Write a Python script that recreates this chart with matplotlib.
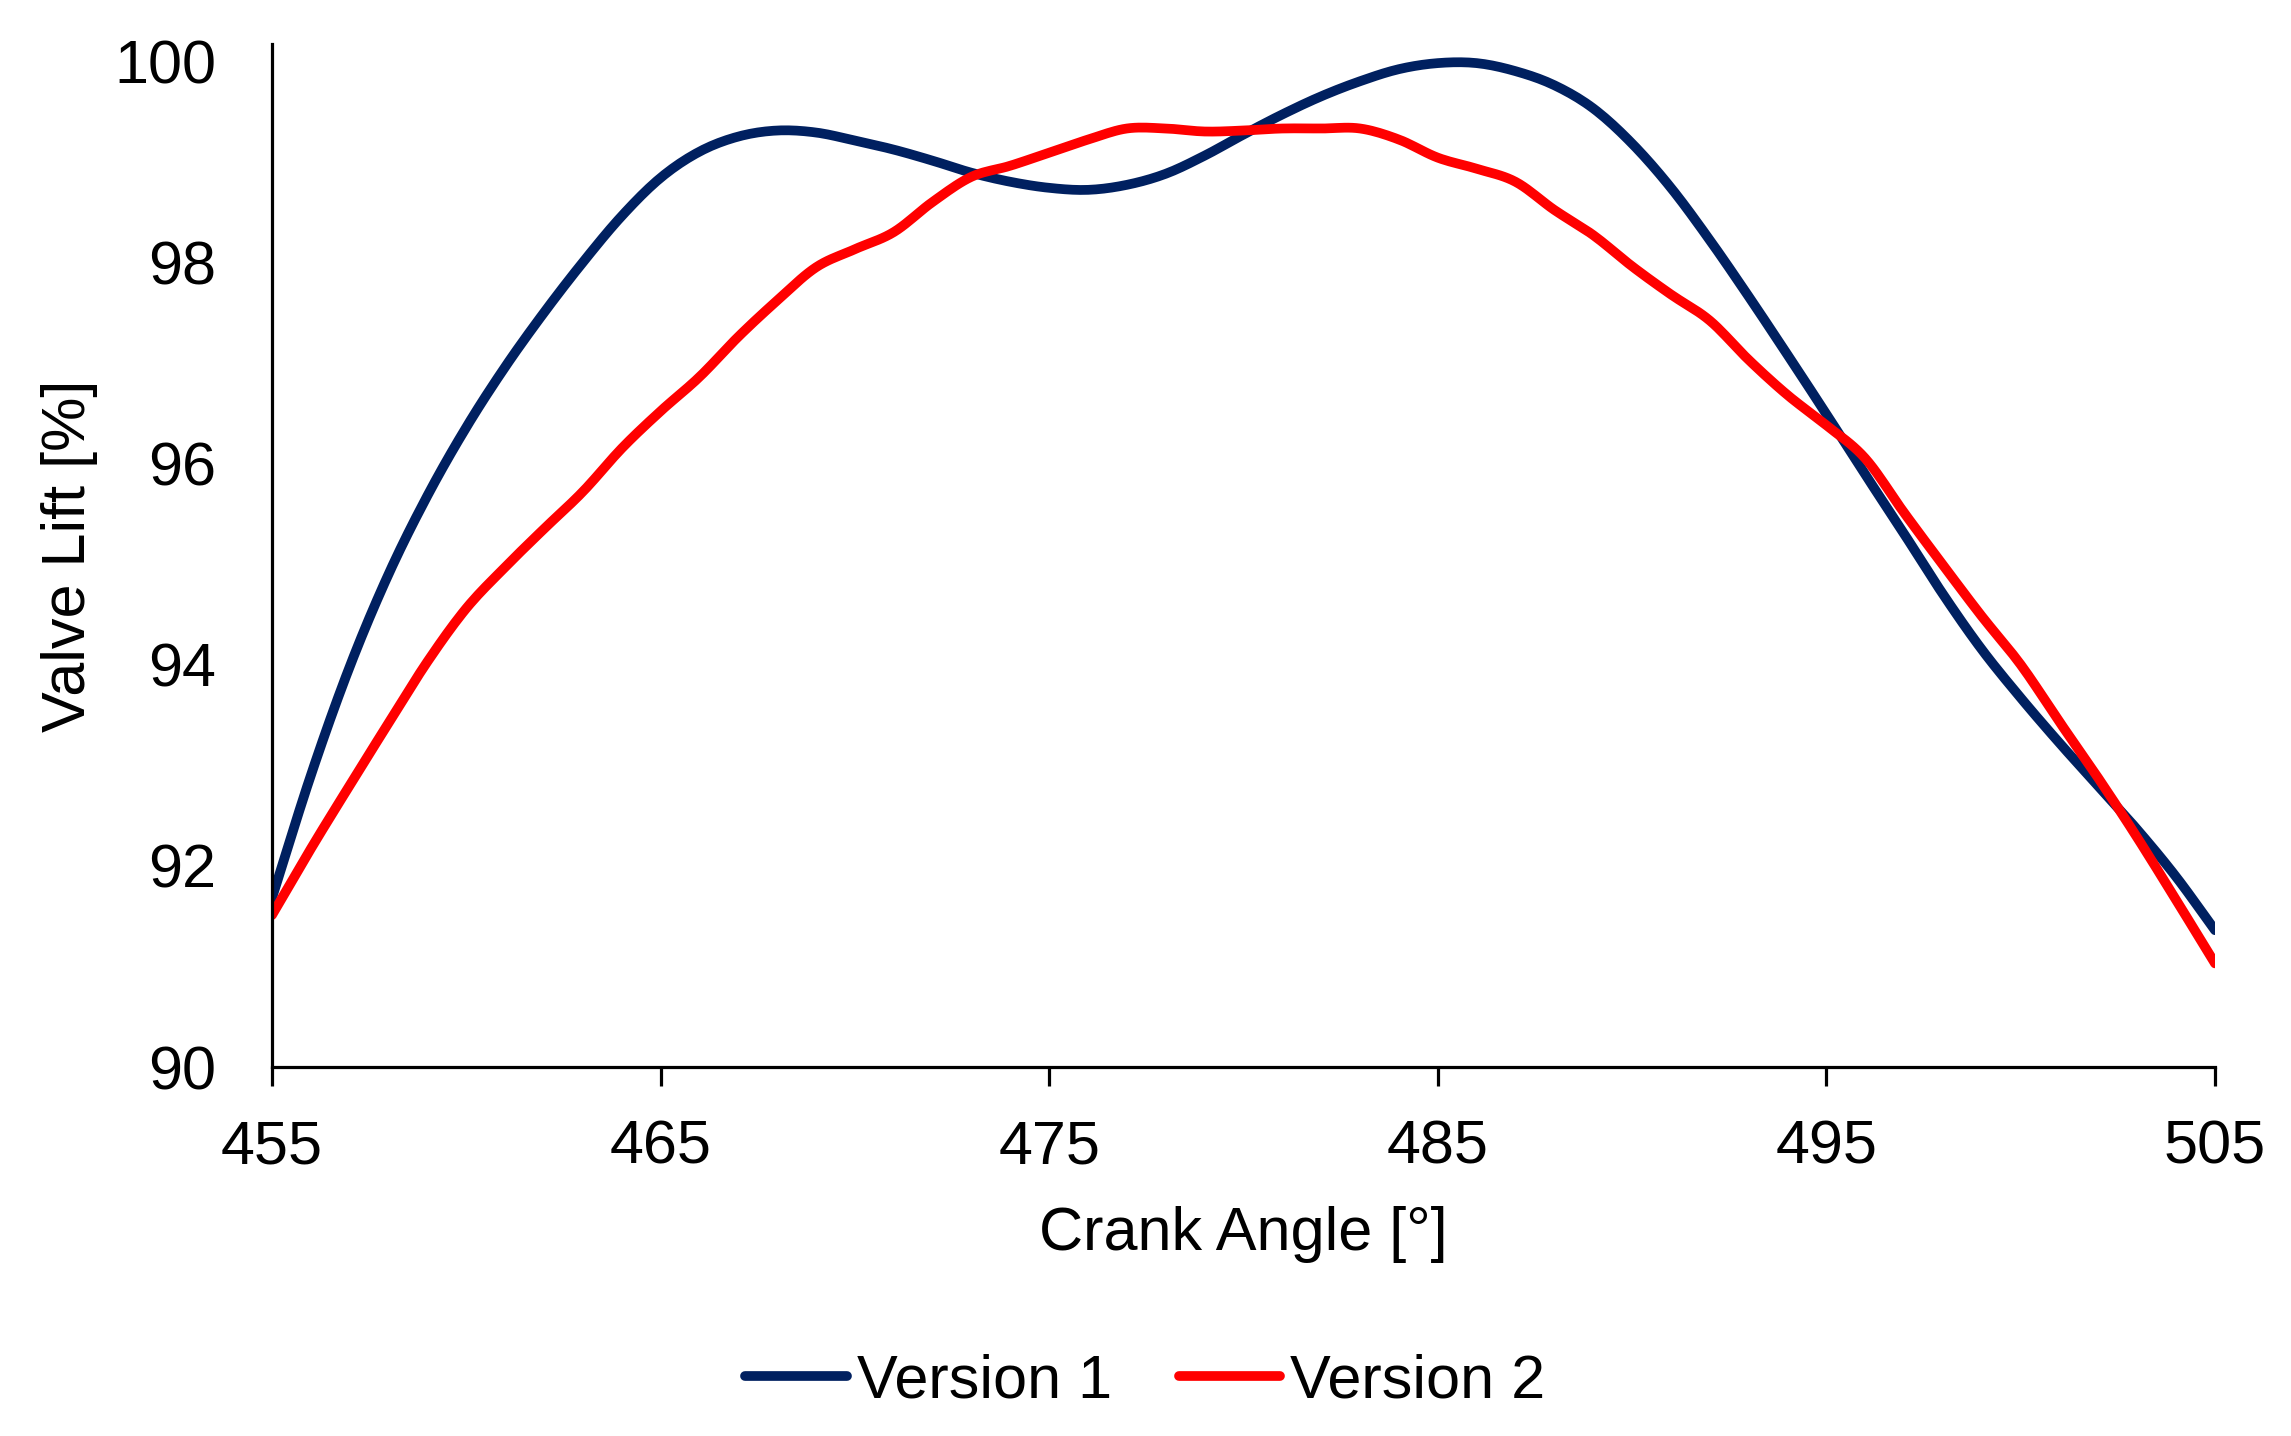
# valve lift comparison chart

import numpy as np
import matplotlib.pyplot as plt

# crank angle in degrees
crank_angle = np.arange(455, 506, 1)

# valve lift [%]
lift_v1 = [91.68, 92.90, 93.98, 94.90, 95.68, 96.36, 96.96, 97.50, 98.00, 98.46,
           98.84, 99.10, 99.25, 99.31, 99.29, 99.21, 99.12, 99.01, 98.89, 98.80,
           98.74, 98.72, 98.77, 98.88, 99.06, 99.27, 99.47, 99.65, 99.80, 99.92,
           99.98, 99.98, 99.90, 99.76, 99.53, 99.18, 98.74, 98.22, 97.66, 97.08,
           96.49, 95.89, 95.30, 94.70, 94.15, 93.67, 93.22, 92.79, 92.36, 91.89,
           91.36]
lift_v2 = [91.51, 92.17, 92.80, 93.42, 94.03, 94.56, 94.97, 95.35, 95.72, 96.15,
           96.52, 96.86, 97.26, 97.62, 97.95, 98.13, 98.30, 98.60, 98.85, 98.96,
           99.09, 99.22, 99.33, 99.33, 99.30, 99.31, 99.33, 99.33, 99.33, 99.22,
           99.04, 98.93, 98.80, 98.52, 98.27, 97.96, 97.68, 97.42, 97.03, 96.68,
           96.38, 96.05, 95.51, 94.99, 94.48, 94.00, 93.43, 92.87, 92.28, 91.66,
           91.03]

x_ticks = [455, 465, 475, 485, 495, 505]
y_ticks = [90, 92, 94, 96, 98, 100]


def smooth(x, y, n=10):
    # catmull-rom curve through the points, like a smoothed excel line
    x = np.asarray(x, float)
    y = np.asarray(y, float)
    px = np.concatenate([[2 * x[0] - x[1]], x, [2 * x[-1] - x[-2]]])
    py = np.concatenate([[2 * y[0] - y[1]], y, [2 * y[-1] - y[-2]]])
    t = np.linspace(0, 1, n, endpoint=False)
    xs, ys = [], []
    for i in range(1, len(px) - 2):
        for p, out in ((px, xs), (py, ys)):
            p0, p1, p2, p3 = p[i - 1], p[i], p[i + 1], p[i + 2]
            out.extend(0.5 * (2 * p1 + (-p0 + p2) * t
                              + (2 * p0 - 5 * p1 + 4 * p2 - p3) * t ** 2
                              + (-p0 + 3 * p1 - 3 * p2 + p3) * t ** 3))
    xs.append(x[-1])
    ys.append(y[-1])
    return xs, ys


plt.rcParams['font.family'] = ['Liberation Sans', 'DejaVu Sans']
plt.rcParams['font.size'] = 44

fig = plt.figure(figsize=(22.91, 14.36), dpi=100)
ax = fig.add_axes([272 / 2291, 1 - 1067 / 1436, 1943 / 2291, 1023 / 1436])

ax.plot(*smooth(crank_angle, lift_v1), color='#002060', lw=7,
        label='Version 1', solid_capstyle='round')
ax.plot(*smooth(crank_angle, lift_v2), color='#FF0000', lw=7,
        label='Version 2', solid_capstyle='round')

ax.set_xlim(455, 505)
ax.set_ylim(90, 100.17)
ax.set_xticks(x_ticks)
ax.set_yticks(y_ticks)

for side in ['top', 'right']:
    ax.spines[side].set_visible(False)
for side in ['left', 'bottom']:
    ax.spines[side].set_linewidth(2.3)
    ax.spines[side].set_color('black')

ax.tick_params(axis='x', direction='out', length=13.7, width=2.3, pad=24)
ax.tick_params(axis='y', length=0, pad=40)

ax.set_xlabel('Crank Angle [°]', labelpad=21)
ax.set_ylabel('Valve Lift [%]', labelpad=12)

fig.legend(loc='center', bbox_to_anchor=(0.5, 1 - 1382 / 1436), ncol=2,
           frameon=False, handlelength=1.66, handletextpad=0.16,
           columnspacing=1.1)

plt.savefig('out.png', dpi=100)
